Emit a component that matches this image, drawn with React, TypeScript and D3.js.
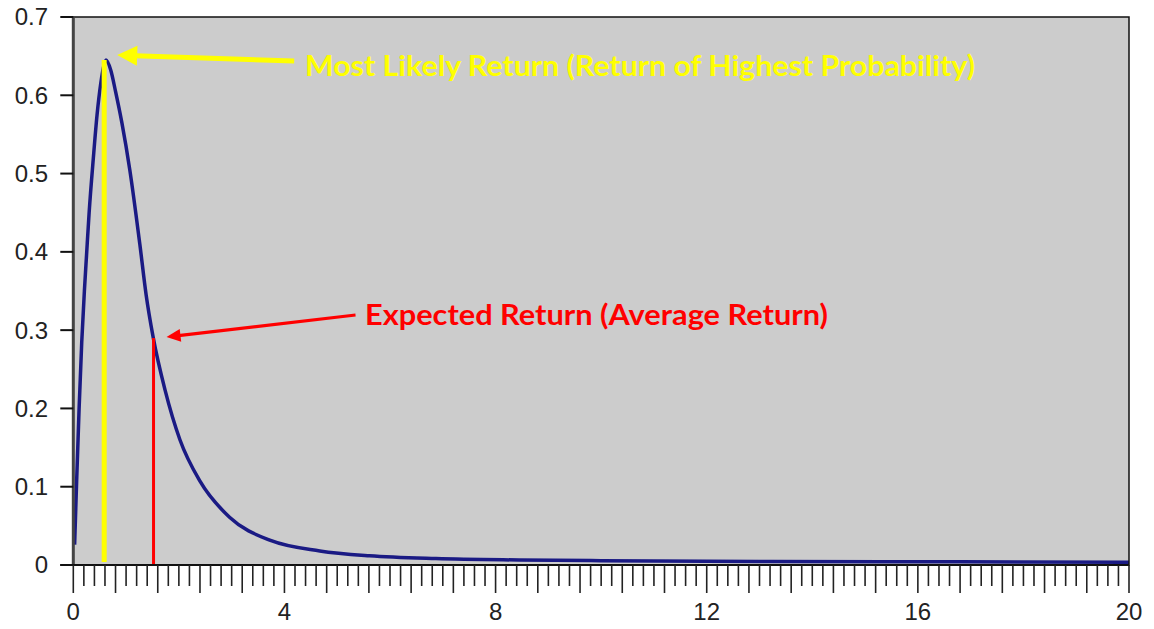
import React from "react";
import * as d3 from "d3";

// Probability density curve
const curveX = [0.025, 0.06, 0.11, 0.16, 0.21, 0.25, 0.3, 0.38, 0.45, 0.52, 0.58, 0.62, 0.71, 0.8, 0.92, 1.07, 1.26, 1.38, 1.51, 1.74, 2.02, 2.4, 2.96, 3.75, 4.67, 5.61, 6.87, 8.45, 10.0, 13.2, 16.8, 20];
const curveY = [0.026, 0.1, 0.2, 0.285, 0.35, 0.395, 0.45, 0.52, 0.575, 0.615, 0.638, 0.645, 0.632, 0.605, 0.565, 0.505, 0.41, 0.345, 0.292, 0.223, 0.16, 0.107, 0.061, 0.031, 0.018, 0.0118, 0.0082, 0.0064, 0.0055, 0.0045, 0.004, 0.0036];

const yTicks = [0, 0.1, 0.2, 0.3, 0.4, 0.5, 0.6, 0.7];
const yTickLabels = ["0", "0.1", "0.2", "0.3", "0.4", "0.5", "0.6", "0.7"];
const xLabelTicks = [0, 4, 8, 12, 16, 20];

const modeX = 0.585;
const modeY = 0.645;
const meanX = 1.52;
const meanY = 0.29;

const modeLabel = "Most Likely Return (Return of Highest Probability)";
const meanLabel = "Expected Return (Average Return)";

export default function App() {
  const W = 1154, H = 629;
  const left = 73.3, right = 1129, top = 17, bottom = 565;
  const xs = d3.scaleLinear().domain([0, 20]).range([left, right]);
  const ys = d3.scaleLinear().domain([0, 0.7]).range([bottom, top]);

  const pts: [number, number][] = curveX.map((x, i) => [x, curveY[i]]);
  const line = d3
    .line<[number, number]>()
    .x((d) => xs(d[0]))
    .y((d) => ys(d[1]))
    .curve(d3.curveMonotoneX);

  const minorTicks = d3.range(0, 101).map((i) => i * 0.2);

  // yellow arrow geometry
  const yTip = [xs(modeX) + 13, ys(modeY) - 5];
  const yShaftEnd = [xs(modeX) + 190, ys(modeY) + 1];
  // red arrow geometry
  const rTip = [xs(meanX) + 13, ys(meanY) - 1];
  const rShaftEnd = [xs(meanX) + 202, ys(meanY) - 23];

  const arrowHead = (tip: number[], from: number[], len: number, half: number) => {
    const dx = from[0] - tip[0], dy = from[1] - tip[1];
    const L = Math.hypot(dx, dy);
    const ux = dx / L, uy = dy / L;
    const bx = tip[0] + ux * len, by = tip[1] + uy * len;
    const px = -uy, py = ux;
    return `${tip[0]},${tip[1]} ${bx + px * half},${by + py * half} ${bx - px * half},${by - py * half}`;
  };
  const shaftStart = (tip: number[], from: number[], len: number) => {
    const dx = from[0] - tip[0], dy = from[1] - tip[1];
    const L = Math.hypot(dx, dy);
    return [tip[0] + (dx / L) * (len - 2), tip[1] + (dy / L) * (len - 2)];
  };
  const ys0 = shaftStart(yTip, yShaftEnd, 20);
  const rs0 = shaftStart(rTip, rShaftEnd, 14);

  return (
    <svg
      width={W}
      height={H}
      style={{ position: "absolute", left: 0, top: 0, background: "#fff" }}
      fontFamily="'Liberation Sans', Arial, sans-serif"
    >
      <rect x={left} y={top} width={right - left} height={bottom - top} fill="#cccccc" />

      {/* curve */}
      <path d={line(pts) || ""} fill="none" stroke="#1a1a84" strokeWidth={3.5} strokeLinejoin="round" />

      {/* mode line */}
      <line x1={xs(modeX)} x2={xs(modeX)} y1={ys(modeY)} y2={bottom - 3} stroke="#ffff00" strokeWidth={5} />
      {/* mean line */}
      <line x1={xs(meanX)} x2={xs(meanX)} y1={ys(meanY)} y2={bottom} stroke="#ff0000" strokeWidth={3} />

      {/* yellow arrow */}
      <line x1={ys0[0]} y1={ys0[1]} x2={yShaftEnd[0]} y2={yShaftEnd[1]} stroke="#ffff00" strokeWidth={5} />
      <polygon points={arrowHead(yTip, yShaftEnd, 20, 10)} fill="#ffff00" />
      <text x={305} y={76} fill="#ffff00" fontFamily="Lato, 'Open Sans', sans-serif" fontWeight={700} fontSize={28} textLength={670} lengthAdjust="spacingAndGlyphs">
        {modeLabel}
      </text>

      {/* red arrow */}
      <line x1={rs0[0]} y1={rs0[1]} x2={rShaftEnd[0]} y2={rShaftEnd[1]} stroke="#ff0000" strokeWidth={3.2} />
      <polygon points={arrowHead(rTip, rShaftEnd, 14, 6.5)} fill="#ff0000" />
      <text x={365} y={325} fill="#ff0000" fontFamily="Lato, 'Open Sans', sans-serif" fontWeight={700} fontSize={28} textLength={463} lengthAdjust="spacingAndGlyphs">
        {meanLabel}
      </text>

      {/* frame */}
      <rect x={left} y={top} width={right - left} height={bottom - top} fill="none" stroke="#111" strokeWidth={1.5} />
      <line x1={left} x2={left} y1={top} y2={bottom} stroke="#444" strokeWidth={3} />

      {/* y ticks */}
      {yTicks.map((t, i) => (
        <g key={"y" + i}>
          <line x1={left - 13} x2={left} y1={ys(t)} y2={ys(t)} stroke="#111" strokeWidth={2} />
          <text x={48} y={ys(t)} dy="0.35em" textAnchor="end" fontSize={24} fill="#222">
            {yTickLabels[i]}
          </text>
        </g>
      ))}

      {/* x ticks */}
      <line x1={left - 13} x2={right} y1={bottom} y2={bottom} stroke="#111" strokeWidth={2} />
      {minorTicks.map((t, i) => (
        <line
          key={"xt" + i}
          x1={xs(t)}
          x2={xs(t)}
          y1={bottom}
          y2={i % 4 === 0 ? bottom + 28 : bottom + 21}
          stroke="#222"
          strokeWidth={1.6}
        />
      ))}
      {xLabelTicks.map((t) => (
        <text key={"xl" + t} x={xs(t)} y={620} textAnchor="middle" fontSize={24} fill="#222">
          {t}
        </text>
      ))}
    </svg>
  );
}
